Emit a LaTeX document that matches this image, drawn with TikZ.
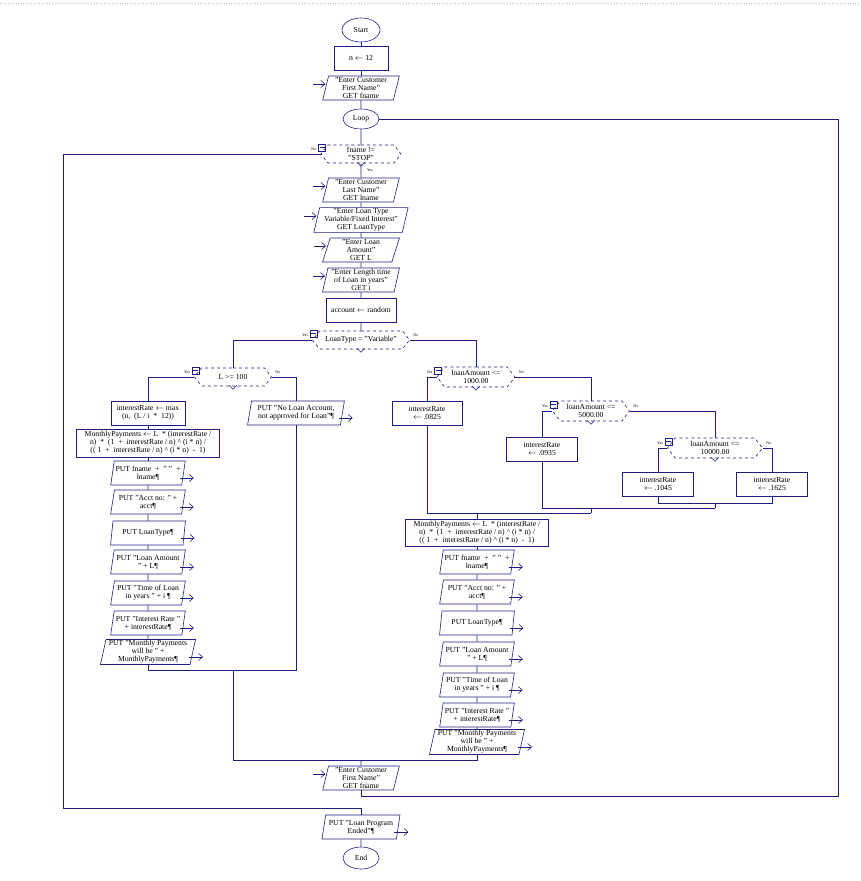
\documentclass[tikz,border=0pt]{standalone}
\usepackage{fontspec}
\setmainfont{Liberation Serif}
\usetikzlibrary{shapes.geometric,shapes.symbols,calc,arrows.meta}
\definecolor{nv}{RGB}{30,30,130}
\newcommand\mnbox[1]{\draw[ln] ($(#1.west)+(-2,-10)$) rectangle ++(7,7) ($(#1.west)+(-1,-6.5)$) -- ++(5,0);
 \draw[ln] ($(#1.south)+(-4,-1)$) -- ($(#1.south)+(0,3)$) -- ($(#1.south)+(4,-1)$);}
\newcommand\yn[1]{\node[lab] at ($(#1.west)+(-7,-5)$) {Yes}; \node[lab] at ($(#1.east)+(6,-5)$) {No};}
\begin{document}
\begin{tikzpicture}[x=1pt,y=-1pt,
 ln/.style={draw=nv,line width=0.6pt},
 base/.style={ln,font=\fontsize{7.7}{8}\selectfont,align=center,inner sep=1pt},
 term/.style={base,ellipse},
 proc/.style={base,rectangle,minimum height=24pt},
 io/.style={base,trapezium,trapezium left angle=78,trapezium right angle=102,trapezium stretches=true,minimum height=24pt},
 dec/.style={base,dashed,shape=signal,signal to=west and east,signal pointer angle=105,minimum height=18pt},
 lab/.style={font=\fontsize{4}{4}\selectfont,text=black,inner sep=0pt},
 inar/.style={ln,-{Straight Barb[length=4pt,width=7pt]},nv},
]
\useasboundingbox (0,0) rectangle (860,881);
\draw[gray!50,dotted,line width=0.6pt] (0,3) -- (860,3);

\node[term,minimum width=38pt,minimum height=24pt] (start) at (361,30) {Start};
\node[proc,minimum width=54pt] (n) at (361,58) {n $\leftarrow$ 12};
\node[io,minimum width=77pt] (in1) at (361,88) {"Enter Customer\\First Name"\\GET fname};
\node[term,minimum width=36pt,minimum height=20pt] (loop) at (361,119) {Loop};
\node[dec,minimum width=80pt] (d1) at (361,154) {fname !=\\"STOP"};
\node[io,minimum width=77pt] (in2) at (361,190) {"Enter Customer\\Last Name"\\GET lname};
\node[io,minimum width=95pt] (in3) at (361,220) {"Enter Loan Type\\Variable/Fixed Interest"\\GET LoanType};
\node[io,minimum width=77pt] (in4) at (361,250) {"Enter Loan\\Amount"\\GET L};
\node[io,minimum width=77pt] (in5) at (361,280) {"Enter Length time\\of Loan in years"\\GET i};
\node[proc,minimum width=70pt] (acc) at (361,310) {account $\leftarrow$ random};
\node[dec,minimum width=97pt] (d2) at (361,340) {LoanType = "Variable"};

\node[dec,minimum width=77pt] (d3) at (233,377) {L >= 100};
\node[proc,minimum width=74pt] (a1) at (148,413) {interestRate $\leftarrow$ max\\(n,\ \ (L / i \ * \ 12))};
\node[proc,minimum width=143pt,minimum height=28pt] (mp1) at (148,443) {MonthlyPayments $\leftarrow$ L \ * (interestRate /\\n) \ * \ (1 \ + \ interestRate / n) \^{} (i * n) /\\(( 1 \ + \ interestRate / n) \^{} (i * n) \ - \ 1)};
\node[io,minimum width=75pt] (o1) at (148,473) {PUT fname \ + \ " " \ +\\lname¶};
\node[io,minimum width=75pt] (o2) at (148,502) {PUT "Acct no: " +\\acct¶};
\node[io,minimum width=75pt] (o3) at (148,533) {PUT LoanType¶};
\node[io,minimum width=75pt] (o4) at (148,562) {PUT "Loan Amount\\" + L¶};
\node[io,minimum width=75pt] (o5) at (148,593) {PUT "Time of Loan\\in years " + i ¶};
\node[io,minimum width=75pt] (o6) at (148,623) {PUT "Interest Rate "\\+ interestRate¶};
\node[io,minimum width=96pt] (o7) at (148,652) {PUT "Monthly Payments\\will be " +\\MonthlyPayments¶};
\node[io,minimum width=97pt] (nola) at (296,413) {PUT "No Loan Account,\\not approved for Loan"¶};

\node[dec,minimum width=78pt,minimum height=20pt] (d4) at (476,377) {loanAmount <=\\1000.00};
\node[proc,minimum width=70pt] (r1) at (427,413) {interestRate\\$\leftarrow$ .0825};
\node[dec,minimum width=77pt,minimum height=20pt] (d5) at (591,411) {loanAmount <=\\5000.00};
\node[proc,minimum width=71pt] (r2) at (542,449) {interestRate\\$\leftarrow$ .0935};
\node[dec,minimum width=95pt,minimum height=20pt] (d6) at (715,448) {loanAmount <=\\10000.00};
\node[proc,minimum width=71pt] (r3) at (658,484) {interestRate\\$\leftarrow$ .1045};
\node[proc,minimum width=71pt] (r4) at (772,484) {interestRate\\$\leftarrow$ .1625};
\node[proc,minimum width=143pt,minimum height=27pt] (mp2) at (477,533) {MonthlyPayments $\leftarrow$ L \ * (interestRate /\\n) \ * \ (1 \ + \ interestRate / n) \^{} (i * n) /\\(( 1 \ + \ interestRate / n) \^{} (i * n) \ - \ 1)};
\node[io,minimum width=75pt] (p1) at (477,562) {PUT fname \ + \ " " \ +\\lname¶};
\node[io,minimum width=75pt] (p2) at (477,592) {PUT "Acct no: " +\\acct¶};
\node[io,minimum width=75pt] (p3) at (477,623) {PUT LoanType¶};
\node[io,minimum width=75pt] (p4) at (477,654) {PUT "Loan Amount\\" + L¶};
\node[io,minimum width=75pt] (p5) at (477,685) {PUT "Time of Loan\\in years " + i ¶};
\node[io,minimum width=75pt] (p6) at (477,715) {PUT "Interest Rate "\\+ interestRate¶};
\node[io,minimum width=96pt] (p7) at (477,742) {PUT "Monthly Payments\\will be " +\\MonthlyPayments¶};

\node[io,minimum width=77pt] (in6) at (361,778) {"Enter Customer\\First Name"\\GET fname};
\node[io,minimum width=78pt] (pe) at (361,827) {PUT "Loan Program\\Ended"¶};
\node[term,minimum width=36pt,minimum height=22pt] (end) at (361,858) {End};

\coordinate (j1) at (233,670);
\coordinate (jm) at (361,760);
\coordinate (k1) at (715,503);
\coordinate (k2) at (591,508);
\coordinate (k3) at (477,513);
\coordinate (rr) at (838,796);
\coordinate (rt) at (838,119);
\coordinate (ll) at (63,808);

\draw[ln] (start) -- (n); \draw[ln] (n) -- (in1); \draw[ln] (in1) -- (loop); \draw[ln] (loop) -- (d1);
\draw[ln] (d1) -- (in2); \draw[ln] (in2) -- (in3); \draw[ln] (in3) -- (in4); \draw[ln] (in4) -- (in5);
\draw[ln] (in5) -- (acc); \draw[ln] (acc) -- (d2);
\draw[ln] (d2.west) -| (d3.north); \draw[ln] (d2.east) -| (d4.north);
\draw[ln] (d3.west) -| (a1.north); \draw[ln] (d3.east) -| (nola.north);
\draw[ln] (a1) -- (mp1); \draw[ln] (mp1) -- (o1);
\foreach \a/\b in {o1/o2,o2/o3,o3/o4,o4/o5,o5/o6,o6/o7,mp2/p1,p1/p2,p2/p3,p3/p4,p4/p5,p5/p6,p6/p7} \draw[ln] (\a) -- (\b);
\draw[ln] (o7.south) |- (nola.south |- j1) -- (nola.south);
\draw[ln] (j1) -- (j1 |- jm) -- (p7.south |- jm) -- (p7.south);
\draw[ln] (jm) -- (in6.north);
\draw[ln] (d4.west) -| (r1.north); \draw[ln] (d4.east) -| (d5.north);
\draw[ln] (d5.west) -| (r2.north); \draw[ln] (d5.east) -| (d6.north);
\draw[ln] (d6.west) -| (r3.north); \draw[ln] (d6.east) -| (r4.north);
\draw[ln] (r3.south) |- (r4.south |- k1) -- (r4.south);
\draw[ln] (k1) -- (k1 |- k2);
\draw[ln] (r2.south) |- (k1 |- k2);
\draw[ln] (k2) -- (k2 |- k3);
\draw[ln] (r1.south) |- (k2 |- k3);
\draw[ln] (k3) -- (mp2.north);
\draw[ln] (in6.south) |- (rr) -- (rt) -- (loop.east -| rt) -- (loop.east);
\draw[ln] (d1.west) -| (ll) -| (pe.north);
\draw[ln] (pe) -- (end);

\foreach \d in {d1,d2,d3,d4,d5,d6} {\mnbox{\d}}
\node[lab] at ($(d1.west)+(-7,-5)$) {No};
\node[lab] at (370,170) {Yes};
\yn{d2}\yn{d3}\yn{d4}\yn{d5}\yn{d6}

\foreach \i in {in1,in2,in3,in4,in5,in6} \draw[inar] ($(\i.west)+(-12,-4)$) -- ++(12,0);
\foreach \o in {o1,o2,o3,o4,o5,o6,o7,nola,p1,p2,p3,p4,p5,p6,p7,pe} \draw[inar] ($(\o.east)+(-4,5)$) -- ++(14,0);
\end{tikzpicture}
\end{document}
